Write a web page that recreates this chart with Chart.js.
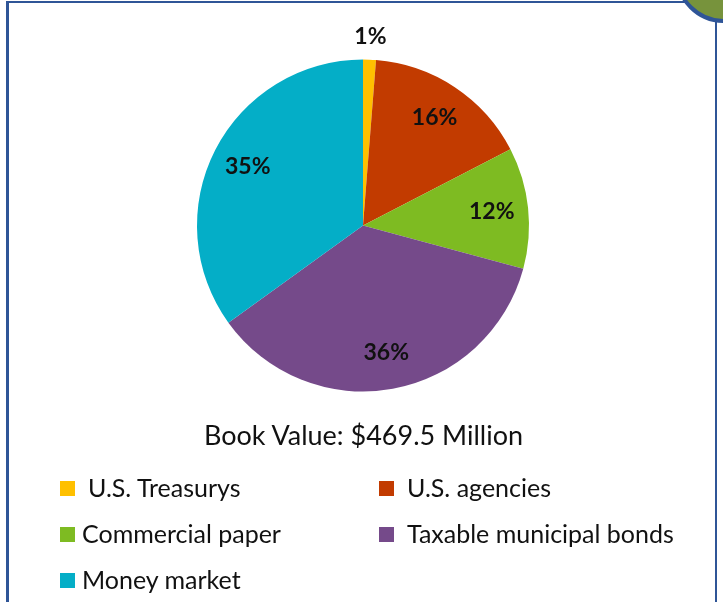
<!DOCTYPE html>
<html>
<head>
<meta charset="utf-8">
<script src="https://cdn.jsdelivr.net/npm/chart.js@4.4.0/dist/chart.umd.min.js"></script>
<style>
  html, body { margin: 0; padding: 0; background: #fff; }
  body { width: 723px; height: 602px; position: relative; overflow: hidden; font-family: Lato, "Open Sans", sans-serif; }
  #frame { position: absolute; left: 6px; top: 1px; width: 711px; height: 640px; border: 2px solid #2F5597; border-left-width: 3px; box-sizing: border-box; }
  #badge { position: absolute; left: 675px; top: -75px; width: 90px; height: 90px; border-radius: 50%; background: #77933C; border: 4px solid #2F5597; }
  #chartBox { position: absolute; left: 0; top: 0; width: 723px; height: 602px; }
  #title { position: absolute; left: 0; width: 727px; top: 418px; text-align: center; font-size: 27px; color: #111; }
  .item { position: absolute; font-size: 25px; color: #111; white-space: pre; line-height: 30px; }
  .item span { display: inline-block; width: 15px; height: 15px; vertical-align: middle; position: relative; top: -2px; }
</style>
</head>
<body>
<div id="frame"></div>
<div id="badge"></div>
<div id="chartBox"><canvas id="pieChart" width="723" height="602"></canvas></div>
<div id="title"></div>
<div id="legend"></div>
<script>
// Portfolio composition (percent of book value)
const categories = ['U.S. Treasurys', 'U.S. agencies', 'Commercial paper', 'Taxable municipal bonds', 'Money market'];
const shares = [1.25, 16.15, 11.8, 35.85, 34.95];
const sliceColors = ['#FFC000', '#C23B00', '#7EBB22', '#754A8A', '#04AEC7'];
const titleText = 'Book Value: $469.5 Million';

document.getElementById('title').textContent = titleText;

// Legend laid out in two columns like the original
const legendSpots = [[60, 472, 13], [379, 472, 13], [60, 518, 7], [379, 518, 13], [60, 564, 7]];
const legendDiv = document.getElementById('legend');
categories.forEach((name, i) => {
    const el = document.createElement('div');
    el.className = 'item';
    el.style.left = legendSpots[i][0] + 'px';
    el.style.top = legendSpots[i][1] + 'px';
    el.innerHTML = `<span style="background:${sliceColors[i]};margin-right:${legendSpots[i][2]}px"></span>`;
    el.appendChild(document.createTextNode(name));
    legendDiv.appendChild(el);
});

// Draw percentage labels on the slices
const pctLabels = {
    id: 'pctLabels',
    afterDatasetsDraw(chart) {
        const ctx = chart.ctx;
        const meta = chart.getDatasetMeta(0);
        ctx.save();
        ctx.font = 'bold 23px Lato, "Open Sans", sans-serif';
        ctx.fillStyle = '#111';
        ctx.textAlign = 'center';
        ctx.textBaseline = 'middle';
        meta.data.forEach((arc, i) => {
            const mid = (arc.startAngle + arc.endAngle) / 2;
            const r = shares[i] < 3 ? arc.outerRadius * 1.14 : arc.outerRadius * 0.78;
            const x = arc.x + Math.cos(mid) * r;
            const y = arc.y + Math.sin(mid) * r;
            ctx.fillText(Math.round(shares[i]) + '%', x, y);
        });
        ctx.restore();
    }
};

new Chart(document.getElementById('pieChart').getContext('2d'), {
    type: 'pie',
    data: {
        labels: categories,
        datasets: [{
            data: shares,
            backgroundColor: sliceColors,
            borderWidth: 0
        }]
    },
    options: {
        responsive: false,
        animation: false,
        layout: { padding: { left: 197, right: 194, top: 59, bottom: 210 } },
        plugins: {
            legend: { display: false },
            tooltip: { enabled: false }
        }
    },
    plugins: [pctLabels]
});
</script>
</body>
</html>
